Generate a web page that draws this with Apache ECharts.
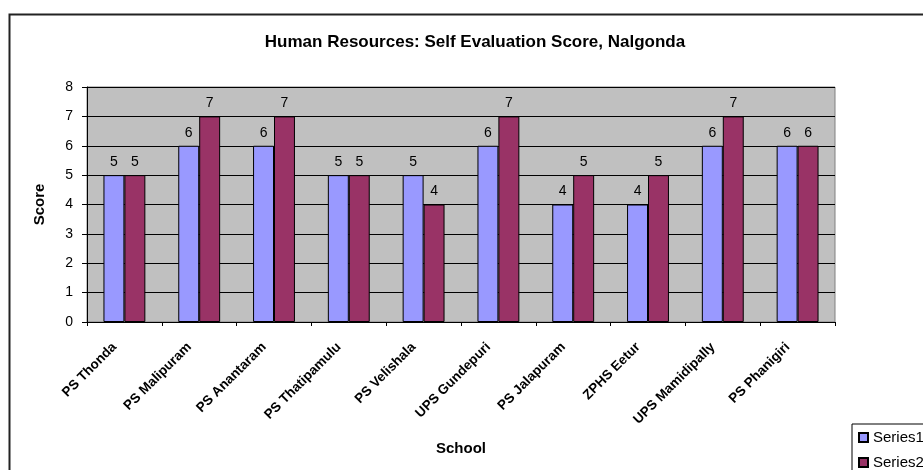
<!DOCTYPE html>
<html>
<head>
<meta charset="utf-8">
<script src="https://cdn.jsdelivr.net/npm/echarts@6.0.0/dist/echarts.min.js"></script>
<style>
  html, body { margin: 0; padding: 0; background: #fff; }
  #chart { width: 923px; height: 470px; }
</style>
</head>
<body>
<div id="chart"></div>
<script>
const schools = [
  "PS Thonda", "PS Malipuram", "PS Anantaram", "PS Thatipamulu", "PS Velishala",
  "UPS Gundepuri", "PS Jalapuram", "ZPHS Eetur", "UPS Mamidipally", "PS Phanigiri"
];
const series1 = [5, 6, 6, 5, 5, 6, 4, 4, 6, 6];
const series2 = [5, 7, 7, 5, 4, 7, 5, 5, 7, 6];
const yTicks = [0, 8, 1]; // min, max, step

const font = "Arial";

const barLabel = {
  show: true,
  position: "top",
  distance: 6,
  color: "#000",
  fontFamily: font,
  fontSize: 14,
};

const option = {
  backgroundColor: "#fff",
  animation: false,
  title: {
    text: "Human Resources: Self Evaluation Score, Nalgonda",
    left: 470,
    textAlign: "center",
    top: 29,
    textStyle: { fontFamily: font, fontSize: 17, fontWeight: "bold", color: "#000" },
  },
  // outer chart frame, runs off the right / bottom edges like the original
  graphic: [
    {
      type: "rect",
      left: 7,
      top: 12,
      shape: { width: 1000, height: 500 },
      style: { fill: null, stroke: "#222", lineWidth: 2 },
      silent: true,
    },
  ],
  legend: {
    orient: "vertical",
    left: 852,
    top: 424,
    height: 80, // keep both items in one column even though the box runs off the page
    padding: [6, 40, 8, 6],
    itemGap: 10,
    itemWidth: 9,
    itemHeight: 9,
    icon: "rect",
    borderColor: "#000",
    borderWidth: 1,
    backgroundColor: "#fff",
    textStyle: { fontFamily: font, fontSize: 15, color: "#000" },
    data: ["Series1", "Series2"],
  },
  grid: {
    show: true,
    left: 87,
    right: 88,
    top: 87,
    bottom: 148,
    backgroundColor: "#C0C0C0",
    borderColor: "#808080",
    borderWidth: 1,
  },
  xAxis: {
    type: "category",
    data: schools,
    name: "School",
    nameLocation: "middle",
    nameGap: 119,
    nameTextStyle: { fontFamily: font, fontSize: 15, fontWeight: "bold", color: "#000" },
    axisLine: { lineStyle: { color: "#000", width: 1 } },
    axisTick: { show: true, length: 4, lineStyle: { color: "#000" } },
    axisLabel: {
      rotate: 45,
      interval: 0,
      margin: 23,
      verticalAlign: "bottom",
      padding: [0, 7, 0, 0],
      fontFamily: font,
      fontSize: 13.5,
      fontWeight: "bold",
      color: "#000",
    },
  },
  yAxis: {
    type: "value",
    min: yTicks[0],
    max: yTicks[1],
    interval: yTicks[2],
    name: "Score",
    nameLocation: "middle",
    nameRotate: 90,
    nameGap: 40,
    nameTextStyle: { fontFamily: font, fontSize: 15, fontWeight: "bold", color: "#000" },
    axisLine: { show: true, lineStyle: { color: "#000", width: 1 } },
    axisTick: { show: true, length: 5, lineStyle: { color: "#000" } },
    axisLabel: { margin: 14, fontFamily: font, fontSize: 14, color: "#000" },
    splitLine: { show: true, lineStyle: { color: "#000", width: 1 } },
  },
  series: [
    {
      name: "Series1",
      type: "bar",
      data: series1,
      barGap: "0%",
      barCategoryGap: "44%",
      itemStyle: { color: "#9999FF", borderColor: "#000", borderWidth: 1 },
      label: barLabel,
    },
    {
      name: "Series2",
      type: "bar",
      data: series2,
      itemStyle: { color: "#993366", borderColor: "#000", borderWidth: 1 },
      label: barLabel,
    },
  ],
};

const dom = document.getElementById("chart");
echarts.init(dom, null, { renderer: "canvas" }).setOption(option);
</script>
</body>
</html>
